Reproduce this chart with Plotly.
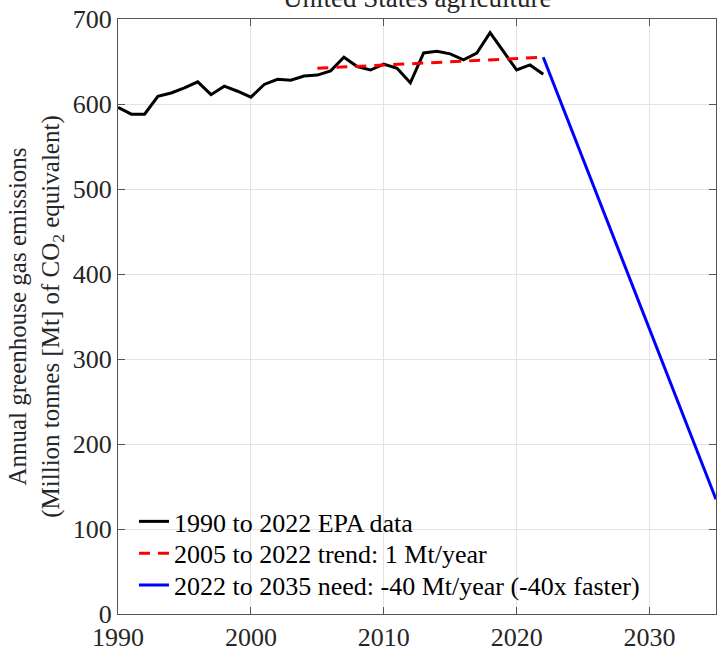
import plotly.graph_objects as go

years = list(range(1990, 2023))
emissions = [596, 588, 588, 609, 613, 619, 626, 611, 621, 615,
             608, 623, 629, 628, 633, 634, 639, 655, 644, 640,
             647, 642, 625, 660, 662, 659, 652, 660, 684, 662,
             640, 646, 635]
trend_years = [2005, 2022]
trend_values = [642, 655]
need_years = [2022, 2035]
need_values = [655, 135]

FONT = "Liberation Serif"
TXT = "#262626"
fig = go.Figure()
fig.add_trace(go.Scatter(x=years, y=emissions, mode="lines",
                         line=dict(color="black", width=3),
                         name="1990 to 2022 EPA data", legend="legend"))
fig.add_trace(go.Scatter(x=trend_years, y=trend_values, mode="lines",
                         line=dict(color="red", width=3, dash="11px,8px"),
                         name="2005 to 2022 trend: 1 Mt/year", legend="legend2"))
fig.add_trace(go.Scatter(x=need_years, y=need_values, mode="lines",
                         line=dict(color="blue", width=3),
                         name="2022 to 2035 need: -40 Mt/year (-40x faster)", legend="legend3"))

axis_common = dict(showline=True, linecolor="#555", linewidth=1,
                   mirror="ticks", ticks="inside", ticklen=7, tickcolor="#555",
                   showgrid=True, gridcolor="#e3e3e3", gridwidth=1, zeroline=False,
                   tickfont=dict(family=FONT, size=26, color=TXT))

def leg(ypix):
    # ypix: pixel center of legend row, converted to paper fraction of plot area
    return dict(x=(134 - 118) / 599, y=(617 - ypix) / 598, xanchor="left", yanchor="middle",
                bgcolor="rgba(255,255,255,0)", borderwidth=0,
                font=dict(family=FONT, size=26, color="black"))

fig.update_layout(
    width=717, height=652,
    margin=dict(l=118, r=0, t=19, b=35),
    plot_bgcolor="white", paper_bgcolor="white",
    font=dict(family=FONT, size=26, color=TXT),
    showlegend=True,
    legend=leg(524), legend2=leg(556), legend3=leg(588),
    xaxis=dict(range=[1990, 2035], tickvals=[1990, 2000, 2010, 2020, 2030], **axis_common),
    yaxis=dict(range=[0, 700], tickvals=[0, 100, 200, 300, 400, 500, 600, 700],
               title=dict(text="Annual greenhouse gas emissions<br>(Million tonnes [Mt] of CO<sub>2</sub> equivalent)",
                          font=dict(family=FONT, size=25, color=TXT), standoff=6),
               **axis_common),
)
fig.add_annotation(text="United States agriculture", xref="paper", yref="paper",
                   x=0.5, y=1, yanchor="bottom", yshift=4, showarrow=False,
                   font=dict(family=FONT, size=27, color=TXT))
fig.write_html("out.html", config={"displayModeBar": False},
               post_script="document.body.style.margin='0';document.body.style.overflow='hidden';")
